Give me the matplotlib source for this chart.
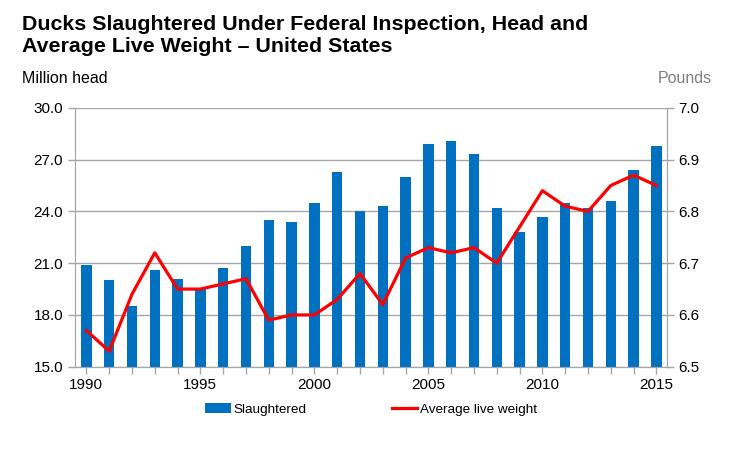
import matplotlib.pyplot as plt
import numpy as np

plt.rcParams['font.family'] = ['Liberation Sans', 'DejaVu Sans']

years = list(range(1990, 2016))
slaughtered = [20.9, 20.0, 18.5, 20.6, 20.1, 19.5, 20.7, 22.0, 23.5, 23.4,
               24.5, 26.3, 24.0, 24.3, 26.0, 27.9, 28.1, 27.3, 24.2, 22.8,
               23.7, 24.5, 24.2, 24.6, 26.4, 27.8]
live_weight = [6.57, 6.53, 6.64, 6.72, 6.65, 6.65, 6.66, 6.67, 6.59, 6.60,
               6.60, 6.63, 6.68, 6.62, 6.71, 6.73, 6.72, 6.73, 6.70, 6.77,
               6.84, 6.81, 6.80, 6.85, 6.87, 6.85]

fig = plt.figure(figsize=(7.35, 4.55), dpi=100)
ax = fig.add_axes([0.102, 0.194, 0.805, 0.569])
ax2 = ax.twinx()

ax.set_zorder(1)
ax2.set_zorder(2)
ax.patch.set_visible(False)

gray = '#a6a6a6'
ax.grid(axis='y', color=gray, linewidth=1)
ax.set_axisbelow(True)
bars = ax.bar(years, slaughtered, width=0.45, color='#0070C0', label='Slaughtered')
line, = ax2.plot(years, live_weight, color='#FF0000', linewidth=2.3, label='Average live weight')

ax.set_ylim(15, 30)
ax.set_yticks(np.arange(15, 30.1, 3))
ax.set_yticklabels([f'{v:.1f}' for v in np.arange(15, 30.1, 3)])
ax2.set_ylim(6.5, 7.0)
ax2.set_yticks(np.arange(6.5, 7.01, 0.1))
ax2.set_yticklabels([f'{v:.1f}' for v in np.arange(6.5, 7.01, 0.1)])
ax.set_xlim(1989.5, 2015.45)
ax.set_xticks(years, minor=True)
ax.set_xticks(range(1990, 2016, 5))

for a in (ax, ax2):
    a.spines['top'].set_visible(False)
    for s in ('left', 'right', 'bottom'):
        a.spines[s].set_color(gray)
    a.tick_params(axis='both', which='both', color=gray, labelsize=11, length=5, width=1)
ax.tick_params(axis='x', which='minor', length=5)
ax.tick_params(axis='x', which='major', length=5, pad=3)
ax2.tick_params(axis='y', labelcolor='black')

fig.text(0.03, 0.968, 'Ducks Slaughtered Under Federal Inspection, Head and\nAverage Live Weight \u2013 United States',
         fontsize=15.4, fontweight='bold', va='top', ha='left', linespacing=1.25)
fig.text(0.03, 0.828, 'Million head', fontsize=11.5, va='center', ha='left')
fig.text(0.968, 0.828, 'Pounds', fontsize=11.5, va='center', ha='right', color='#808080')

fig.legend([bars, line], ['Slaughtered', 'Average live weight'], loc='center',
           bbox_to_anchor=(0.505, 0.1), ncol=2, frameon=False, fontsize=9.7,
           columnspacing=6.3, handlelength=1.9, handletextpad=0.2)

fig.savefig('out.png', dpi=100)
